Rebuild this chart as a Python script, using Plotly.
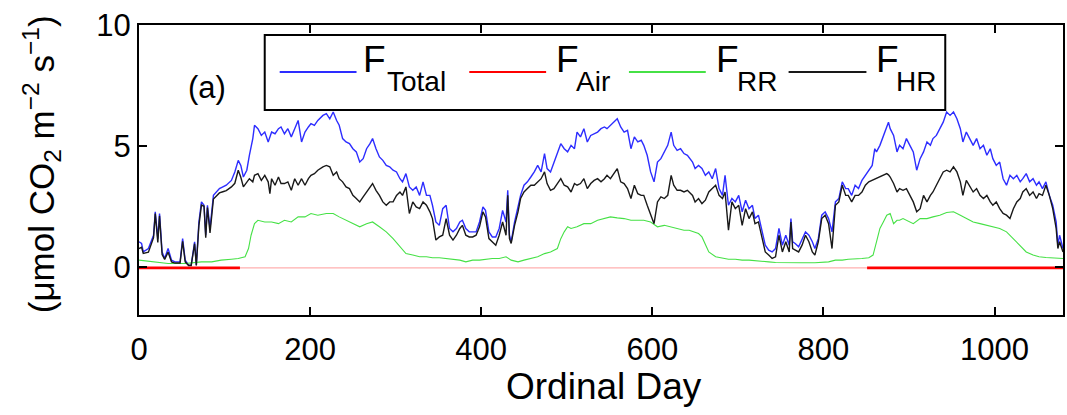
import plotly.graph_objects as go

# ---- data -------------------------------------------------------------
# Sampling days shared by the total and heterotrophic flux series
days_flux = [
    0, 3, 5, 11, 17, 19, 22, 24, 27, 30, 34, 38, 42, 48, 51, 54, 58, 61, 65, 67,
    70, 73, 76, 78, 80, 83, 87, 91, 94, 98, 102, 108, 112, 116, 119, 122, 126, 129, 133, 135,
    139, 143, 147, 151, 153, 155, 159, 163, 166, 170, 174, 178, 182, 186, 190, 194, 198, 201, 205, 209,
    215, 219, 223, 227, 231, 234, 238, 242, 246, 250, 254, 258, 262, 266, 270, 273, 277, 281, 285, 289,
    293, 297, 301, 305, 308, 312, 316, 320, 324, 328, 332, 336, 340, 343, 347, 351, 355, 359, 363, 367,
    371, 375, 378, 382, 386, 390, 394, 398, 402, 405, 409, 413, 417, 421, 425, 429,
    431, 433, 435, 439, 443, 446, 450, 454, 458, 462, 466, 470, 474, 477, 481, 485, 489, 493, 497, 501,
    505, 509, 512, 516, 520, 524, 528, 532, 536, 540, 544, 547, 551, 555, 559, 563, 567, 571, 575, 579,
    583, 587, 590, 594, 598, 602, 606, 610, 614, 618, 622, 625, 629, 633, 637, 641,
    647, 650, 654, 658, 662, 666, 670, 674, 678, 682, 685, 689, 693, 697, 701, 705, 709, 713, 717, 720,
    724, 728, 732, 736, 740, 744, 748, 752, 756, 760, 762, 764, 767, 771, 775, 779, 783, 787, 790, 794,
    798, 802, 806, 810, 814, 818, 822, 826, 829, 833, 837, 841, 845, 849, 853, 857, 860,
    862, 866, 870, 874, 876, 878, 882, 886, 889, 893, 897, 901, 905, 909, 913, 917, 921, 925, 928, 932,
    936, 940, 944, 948, 952, 956, 960, 963, 967, 971, 975, 979, 983, 987, 991, 995, 998, 1002, 1006, 1010,
    1014, 1018, 1022, 1026, 1030, 1033, 1037, 1041, 1045, 1049, 1052, 1056, 1060, 1064, 1068, 1072, 1074, 1076, 1080,
]

f_total = [
    1.03, 0.96, 0.61, 0.75, 1.30, 2.27, 1.16, 2.20, 0.61, 0.34, 0.75, 0.27, 0.20, 0.20, 1.16, 0.27, 0.06, 0.06, 1.03, 0.06,
    1.85, 2.68, 2.54, 1.30, 2.54, 1.58, 2.95, 3.09, 3.23, 3.30, 3.37, 3.57, 3.92, 4.40, 4.19, 3.71, 3.99, 4.61, 5.30, 5.85,
    5.71, 5.43, 5.57, 5.16, 5.35, 5.57, 5.50, 5.71, 5.78, 5.50, 5.71, 5.37, 5.71, 6.05, 5.16, 5.57, 5.78, 5.92, 5.85, 6.05,
    6.26, 6.33, 6.12, 6.40, 6.05, 5.85, 5.30, 5.16, 5.09, 4.88, 4.75, 4.33, 4.47, 4.88, 5.09, 5.30, 4.88, 4.54, 4.40, 4.19,
    4.13, 3.99, 3.92, 3.64, 3.51, 3.85, 3.30, 3.16, 3.30, 2.95, 3.51, 2.95, 2.95, 2.54, 1.85, 1.71, 2.40, 2.54, 1.58, 1.44,
    1.58, 1.85, 1.92, 1.58, 1.44, 1.44, 1.44, 1.85, 2.47, 2.33, 1.44, 1.23, 1.23, 1.58, 2.33, 1.85,
    3.16, 1.30, 1.03, 1.85, 2.54, 2.95, 3.37, 3.51, 3.71, 3.92, 4.19, 3.92, 4.68, 4.06, 3.92, 4.33, 4.75, 5.09, 4.88, 4.75,
    5.02, 4.88, 5.57, 5.37, 5.71, 5.16, 5.43, 5.50, 5.57, 5.71, 5.78, 5.71, 5.85, 5.98, 6.12, 5.78, 5.57, 5.64, 4.88, 5.37,
    5.16, 5.23, 5.02, 4.61, 3.92, 3.51, 4.33, 4.47, 4.75, 5.02, 5.57, 5.02, 4.81, 4.88, 4.68, 4.61,
    4.33, 4.06, 4.19, 4.06, 3.78, 3.92, 3.64, 4.06, 3.23, 2.95, 3.78, 2.54, 2.82, 2.68, 2.95, 2.27, 2.75, 2.40, 2.54, 1.99,
    2.13, 1.44, 0.89, 0.68, 0.61, 0.75, 1.58, 0.89, 1.30, 0.89, 1.99, 1.03, 0.96, 0.82, 1.16, 1.44, 1.30, 1.03, 0.75, 1.16,
    2.13, 2.27, 1.99, 1.44, 2.68, 2.82, 3.51, 3.23, 3.23, 2.95, 3.37, 3.23, 3.57, 3.78, 3.99, 4.19, 4.88,
    4.75, 5.02, 5.43, 5.78, 5.98, 5.71, 5.43, 4.75, 5.02, 4.88, 5.30, 5.02, 4.75, 3.99, 4.47, 4.75, 5.16, 5.02, 5.30, 5.43,
    5.71, 5.98, 6.40, 6.26, 6.40, 6.12, 5.71, 5.16, 5.57, 5.30, 5.02, 5.30, 4.88, 5.02, 4.61, 4.88, 4.47, 4.19, 4.33, 3.64,
    3.37, 3.78, 3.64, 3.78, 3.51, 3.64, 3.85, 3.51, 3.64, 3.37, 3.51, 3.23, 3.51, 2.95, 2.54, 1.85, 0.89, 1.30, 0.75,
]

f_hr = [
    0.75, 0.80, 0.55, 0.60, 1.20, 2.20, 1.00, 2.10, 0.50, 0.30, 0.60, 0.20, 0.15, 0.15, 1.05, 0.20, 0.05, 0.05, 0.95, 0.05,
    1.70, 2.55, 2.50, 1.20, 2.45, 1.40, 2.80, 2.95, 3.05, 3.10, 3.15, 3.30, 3.45, 3.99, 3.70, 3.30, 3.50, 3.64, 3.51, 3.78,
    3.85, 3.57, 3.78, 3.51, 3.02, 3.64, 3.37, 3.71, 3.44, 3.44, 3.51, 3.16, 3.64, 3.37, 3.64, 3.37, 3.64, 3.78, 3.85, 3.99,
    4.13, 4.19, 4.13, 3.78, 3.92, 3.64, 3.51, 3.30, 3.23, 2.95, 2.82, 2.68, 2.89, 3.09, 3.30, 3.44, 3.16, 2.95, 2.68, 2.54,
    2.68, 2.68, 2.95, 3.09, 2.95, 3.30, 2.20, 2.68, 2.47, 2.40, 2.68, 2.54, 2.27, 1.99, 1.10, 1.23, 1.30, 1.99, 1.30, 1.10,
    1.30, 1.58, 1.71, 1.30, 1.23, 1.23, 1.30, 1.65, 2.27, 2.06, 1.16, 1.03, 0.89, 1.30, 1.85, 1.30,
    2.95, 1.16, 0.96, 1.71, 2.27, 2.82, 3.09, 3.23, 3.37, 3.37, 3.51, 3.64, 3.92, 3.44, 3.16, 3.23, 3.44, 3.64, 3.37, 3.30,
    3.09, 3.44, 3.37, 3.44, 3.64, 3.23, 3.44, 3.57, 3.64, 3.51, 3.64, 3.78, 3.64, 3.85, 4.06, 3.51, 3.44, 3.23, 2.82, 3.37,
    3.02, 2.95, 2.95, 2.54, 2.13, 1.78, 2.68, 2.89, 2.82, 2.95, 3.78, 3.37, 3.16, 3.16, 3.09, 3.16,
    2.95, 2.68, 2.82, 2.61, 2.75, 3.09, 3.23, 3.37, 2.95, 2.82, 3.09, 1.51, 2.68, 2.40, 2.54, 1.71, 2.40, 1.99, 2.27, 1.78,
    1.85, 1.16, 0.61, 0.48, 0.34, 0.41, 1.30, 0.61, 1.03, 0.61, 1.85, 0.75, 0.68, 0.61, 0.89, 1.30, 1.03, 0.61, 0.48, 1.03,
    1.99, 2.13, 1.78, 0.75, 2.54, 2.68, 3.37, 2.95, 2.95, 2.68, 2.95, 2.95, 3.09, 3.37, 3.51, 3.57, 3.64,
    3.64, 3.71, 3.78, 3.85, 3.80, 3.71, 3.44, 3.09, 3.23, 3.16, 3.23, 2.95, 2.68, 2.27, 2.40, 2.95, 2.68, 2.95, 3.09, 3.37,
    3.64, 3.92, 3.99, 3.92, 4.13, 3.92, 3.51, 2.95, 3.57, 3.30, 3.09, 3.23, 2.95, 2.82, 2.95, 2.68, 2.54, 2.68, 2.40, 2.20,
    2.13, 1.99, 2.40, 2.68, 2.82, 3.09, 3.23, 2.95, 3.09, 2.82, 3.02, 2.95, 3.37, 2.95, 2.40, 1.58, 0.75, 1.03, 0.61,
]

# Root respiration is smoother, so it is sampled on its own day grid
days_rr = [
    0, 15, 34, 54, 73, 85, 96, 108, 116, 124, 128, 131, 135, 139, 147, 155, 163, 170, 178, 186, 194, 201, 209,
    219, 227, 234, 242, 250, 258, 266, 273, 281, 289, 297, 305, 312, 320, 328, 336, 343, 351, 359, 367, 375, 382, 390, 398, 405, 413, 421, 429,
    435, 443, 450, 458, 466, 474, 481, 489, 493, 497, 501, 505, 512, 520, 528, 536, 544, 551, 559, 567, 575, 583, 590, 598, 606, 614, 622, 629, 637,
    643, 650, 654, 658, 662, 666, 674, 682, 689, 697, 705, 713, 720, 728, 736, 744, 752, 775, 790, 806, 814, 822, 829, 837, 845, 853,
    858, 862, 866, 870, 874, 878, 882, 886, 889, 893, 897, 905, 913, 921, 928, 936, 944, 952, 960, 967, 975, 983, 991, 998, 1006, 1014,
    1022, 1030, 1037, 1045, 1052, 1060, 1068, 1076, 1080,
]

f_rr = [
    0.27, 0.20, 0.13, 0.13, 0.20, 0.20, 0.27, 0.31, 0.34, 0.41, 0.75, 1.30, 1.78, 1.92, 1.85, 1.85, 1.78, 1.92, 1.85, 2.06, 2.06, 2.20, 2.13,
    2.20, 2.20, 2.06, 1.92, 1.78, 1.65, 1.78, 1.85, 1.65, 1.44, 1.16, 0.82, 0.54, 0.48, 0.41, 0.41, 0.37, 0.37, 0.34, 0.31, 0.27, 0.20, 0.27, 0.27, 0.31, 0.34, 0.34, 0.41,
    0.27, 0.20, 0.27, 0.34, 0.41, 0.54, 0.61, 0.75, 1.16, 1.44, 1.65, 1.58, 1.65, 1.78, 1.78, 1.92, 1.99, 2.06, 2.02, 1.99, 1.92, 1.92, 1.92, 1.85, 1.65, 1.71, 1.65, 1.58, 1.51,
    1.51, 1.44, 1.37, 1.23, 0.89, 0.61, 0.41, 0.34, 0.31, 0.31, 0.27, 0.27, 0.24, 0.23, 0.20, 0.17, 0.16, 0.16, 0.16, 0.20, 0.27, 0.27, 0.31, 0.31, 0.34, 0.37,
    0.48, 1.03, 1.58, 1.85, 2.13, 2.20, 1.78, 1.92, 1.92, 1.99, 1.92, 1.78, 1.99, 1.99, 2.06, 2.13, 2.24, 2.27, 2.13, 1.99, 1.85, 1.78, 1.71, 1.65, 1.58, 1.44,
    1.16, 0.89, 0.61, 0.48, 0.41, 0.38, 0.37, 0.34, 0.34,
]

# Air-column flux: measured periods at the start and end, near zero throughout
air_days = [0, 118, 851, 1080]
f_air = [-0.05, -0.05, -0.05, -0.05]

x_ticks = [0, 200, 400, 600, 800, 1000]
y_ticks = [0, 5, 10]

# ---- figure geometry (pixels) ----------------------------------------
W, H = 1067, 415
ML, MR, MT, MB = 139, 2, 25, 100
PW, PH = W - ML - MR, H - MT - MB
FONT = "Liberation Sans, Arial, Helvetica, sans-serif"


def px(x):
    return (x - ML) / PW


def py(y):
    return (H - MB - y) / PH


C_TOTAL = "rgb(45,45,255)"
C_AIR = "rgb(255,0,0)"
C_RR = "rgb(70,225,70)"
C_HR = "rgb(25,25,25)"

fig = go.Figure()

fig.add_trace(go.Scatter(x=days_flux, y=f_total, mode="lines",
                         line=dict(color=C_TOTAL, width=1.4), showlegend=False))
# faint air-flux line between the measured periods
fig.add_trace(go.Scatter(x=air_days[1:3], y=f_air[1:3], mode="lines",
                         line=dict(color="rgba(255,110,110,0.55)", width=1.2), showlegend=False))
fig.add_trace(go.Scatter(x=air_days[0:2] + [None] + air_days[2:4],
                         y=f_air[0:2] + [None] + f_air[2:4], mode="lines",
                         line=dict(color=C_AIR, width=2.6), showlegend=False))
fig.add_trace(go.Scatter(x=days_rr, y=f_rr, mode="lines",
                         line=dict(color=C_RR, width=1.1), showlegend=False))
fig.add_trace(go.Scatter(x=days_flux, y=f_hr, mode="lines",
                         line=dict(color=C_HR, width=1.4), showlegend=False))

axis_common = dict(
    ticks="inside", ticklen=8, tickwidth=2, tickcolor="black",
    showline=True, linewidth=2, linecolor="black", mirror="allticks",
    showgrid=False, zeroline=False,
    tickfont=dict(family=FONT, size=31, color="black"),
)
fig.update_xaxes(range=[0, 1080], tickvals=x_ticks, ticklabelstandoff=6, **axis_common)
fig.update_yaxes(range=[-2, 10], tickvals=y_ticks, **axis_common)

shapes = []
annotations = []

# legend box
shapes.append(dict(type="rect", xref="paper", yref="paper",
                   x0=px(265), x1=px(947), y0=py(110), y1=py(35),
                   fillcolor="white", line=dict(color="black", width=2), layer="above"))

legend_items = [
    ("Total", C_TOTAL, 280, 357, 363, 388),
    ("Air", C_AIR, 470, 547, 557, 577),
    ("RR", C_RR, 630, 707, 717, 738),
    ("HR", C_HR, 790, 868, 878, 898),
]
for sub, col, lx0, lx1, fx, sx in legend_items:
    shapes.append(dict(type="line", xref="paper", yref="paper",
                       x0=px(lx0), x1=px(lx1), y0=py(72), y1=py(72),
                       line=dict(color=col, width=2), layer="above"))
    annotations.append(dict(text="F", xref="paper", yref="paper",
                            x=px(fx - 2), y=py(59), xanchor="left", yanchor="middle",
                            showarrow=False, font=dict(family=FONT, size=37, color="black")))
    annotations.append(dict(text=sub, xref="paper", yref="paper",
                            x=px(sx - 2), y=py(81), xanchor="left", yanchor="middle",
                            showarrow=False, font=dict(family=FONT, size=28, color="black")))

# panel label
annotations.append(dict(text="(a)", xref="paper", yref="paper",
                        x=px(207), y=py(87), xanchor="center", yanchor="middle",
                        showarrow=False, font=dict(family=FONT, size=31, color="black")))

# axis titles
annotations.append(dict(text="(μmol CO<sub>2</sub> m<sup>−2</sup> s<sup>−1</sup>)",
                        xref="paper", yref="paper", x=px(41), y=py(164),
                        xanchor="center", yanchor="middle", textangle=-90,
                        showarrow=False, font=dict(family=FONT, size=35, color="black")))
annotations.append(dict(text="Ordinal Day", xref="paper", yref="paper",
                        x=px(605), y=py(386), xanchor="center", yanchor="middle",
                        showarrow=False, font=dict(family=FONT, size=37, color="black")))

fig.update_layout(
    width=W, height=H,
    margin=dict(l=ML, r=MR, t=MT, b=MB),
    paper_bgcolor="white", plot_bgcolor="white",
    showlegend=False,
    shapes=shapes, annotations=annotations,
)

fig.write_html("out.html")
